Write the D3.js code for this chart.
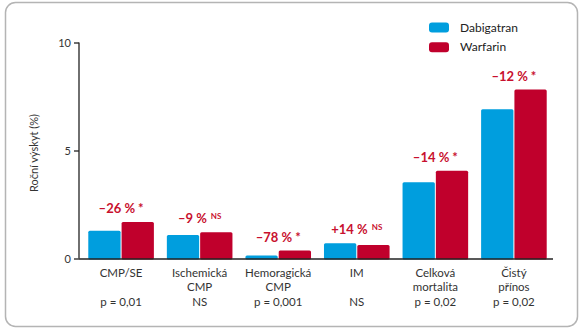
<!DOCTYPE html>
<html>
<head>
<meta charset="utf-8">
<script src="https://d3js.org/d3.v7.min.js"></script>
<style>
  body { margin: 0; background: #fff; }
  svg text { font-family: "Lato", "Open Sans", sans-serif; }
</style>
</head>
<body>
<script>
// data
var categories = [["CMP/SE"], ["Ischemická", "CMP"], ["Hemoragická", "CMP"], ["IM"], ["Celková", "mortalita"], ["Čistý", "přínos"]];
var pValues = ["p = 0,01", "NS", "p = 0,001", "NS", "p = 0,02", "p = 0,02"];
var dabigatran = [1.28, 1.09, 0.14, 0.71, 3.53, 6.91];
var warfarin = [1.69, 1.22, 0.37, 0.62, 4.06, 7.82];
var changes = ["–26 %", "–9 %", "–78 %", "+14 %", "–14 %", "–12 %"];
var signif = ["*", "NS", "*", "NS", "*", "*"];
var seriesNames = ["Dabigatran", "Warfarin"];
var yTicks = [0, 5, 10];

var colors = ["#009ede", "#c0002c"];
var width = 582, height = 331;

var svg = d3.select("body").append("svg")
    .attr("width", width)
    .attr("height", height);

// frame
svg.append("rect")
    .attr("x", 5.5).attr("y", 2.5)
    .attr("width", 572).attr("height", 324)
    .attr("rx", 10)
    .attr("fill", "#fff")
    .attr("stroke", "#b4b4b4")
    .attr("stroke-width", 1.5);

var idx = d3.range(categories.length);

var x = d3.scaleBand()
    .domain(idx)
    .range([82, 553])
    .paddingInner(0.165)
    .paddingOuter(0.08);

var x1 = d3.scaleBand()
    .domain([0, 1])
    .range([0, x.bandwidth()]);

var y = d3.scaleLinear()
    .domain([0, 10])
    .range([258.5, 42.5]);

// y axis
var yAxis = d3.axisLeft(y).tickValues(yTicks).tickSize(5).tickPadding(3);
var gy = svg.append("g")
    .attr("transform", "translate(79,0)")
    .call(yAxis);
gy.select(".domain").attr("stroke", "#222").attr("stroke-width", 1.3).attr("d", "M0," + y(10) + "V" + y(0));
gy.selectAll(".tick line").attr("stroke", "#222").attr("stroke-width", 1.3);
gy.selectAll(".tick text").attr("font-size", 11).attr("fill", "#333")
    .style("font-family", "Lato, sans-serif");

svg.append("text")
    .attr("transform", "translate(38,153) rotate(-90)")
    .attr("text-anchor", "middle")
    .attr("font-size", 11)
    .attr("fill", "#333")
    .text("Roční výskyt (%)");

// bars
var groups = svg.selectAll(".grp")
    .data(idx)
  .enter().append("g")
    .attr("class", "grp")
    .attr("transform", function(i) { return "translate(" + x(i) + ",0)"; });

groups.selectAll("rect")
    .data(function(i) { return [dabigatran[i], warfarin[i]]; })
  .enter().append("rect")
    .attr("x", function(d, j) { return x1(j) + (j == 1 ? 0.5 : 0); })
    .attr("y", function(d) { return y(d); })
    .attr("width", function(d, j) { return x1.bandwidth() - 0.5; })
    .attr("height", function(d) { return y(0) - y(d) + 1; })
    .attr("rx", 1.5)
    .attr("fill", function(d, j) { return colors[j]; });

// x axis line
svg.append("line")
    .attr("x1", 79).attr("x2", 553)
    .attr("y1", y(0) + 0.5).attr("y2", y(0) + 0.5)
    .attr("stroke", "#222").attr("stroke-width", 1.3);

// change labels
var lab = groups.append("text")
    .attr("x", x.bandwidth() / 2)
    .attr("y", function(i) { return y(Math.max(dabigatran[i], warfarin[i])) - 9; })
    .attr("text-anchor", "middle")
    .attr("fill", "#c8102e")
    .attr("font-weight", "bold")
    .attr("font-size", 13);
lab.append("tspan").text(function(i) { return changes[i]; });
lab.append("tspan")
    .attr("dx", function(i) { return signif[i] == "NS" ? 4 : 3; })
    .attr("dy", function(i) { return signif[i] == "NS" ? -4 : 0; })
    .attr("font-size", function(i) { return signif[i] == "NS" ? 8 : 13; })
    .text(function(i) { return signif[i]; });

// category labels
var cat = groups.append("text")
    .attr("text-anchor", "middle")
    .attr("font-size", 11.5)
    .attr("fill", "#333");
cat.selectAll("tspan")
    .data(function(i) { return categories[i]; })
  .enter().append("tspan")
    .attr("x", x.bandwidth() / 2)
    .attr("y", function(d, k) { return 277 + k * 14; })
    .text(function(d) { return d; });

groups.append("text")
    .attr("x", x.bandwidth() / 2)
    .attr("y", 306)
    .attr("text-anchor", "middle")
    .attr("font-size", 11.5)
    .attr("fill", "#333")
    .text(function(i) { return pValues[i]; });

// legend
var leg = svg.selectAll(".leg")
    .data(seriesNames)
  .enter().append("g")
    .attr("class", "leg")
    .attr("transform", function(d, j) { return "translate(429," + (22.5 + j * 19.7) + ")"; });
leg.append("rect")
    .attr("width", 20).attr("height", 10).attr("rx", 3)
    .attr("fill", function(d, j) { return colors[j]; });
leg.append("text")
    .attr("x", 31).attr("y", 9)
    .attr("font-size", 12)
    .attr("fill", "#222")
    .text(function(d) { return d; });
</script>
</body>
</html>
